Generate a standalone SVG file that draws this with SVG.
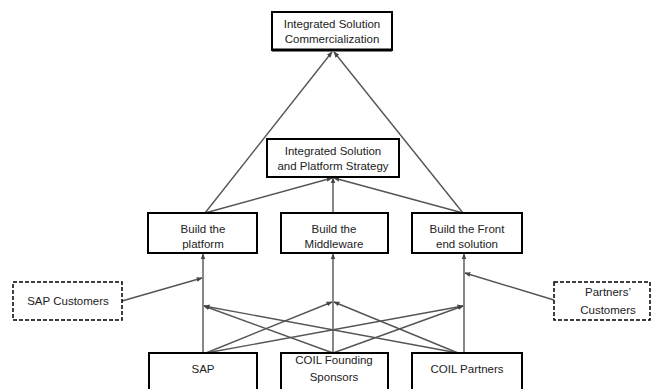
<svg xmlns="http://www.w3.org/2000/svg" width="653" height="389" viewBox="0 0 653 389">
<defs>
<style>
.box{fill:#fff;stroke:#000;stroke-width:2}
.dash{fill:#fff;stroke:#000;stroke-width:1.5;stroke-dasharray:4 2}
.t{font-family:"Liberation Sans",Arial,sans-serif;font-size:11.5px;fill:#222;text-anchor:middle}
.c{stroke:#555;stroke-width:1.4;fill:none;marker-end:url(#a)}
</style>
<marker id="a" viewBox="0 0 10 10" refX="9" refY="5" markerWidth="6" markerHeight="6" orient="auto" markerUnits="userSpaceOnUse">
<path d="M0,1 L10,5 L0,9 z" fill="#444"/>
</marker>
</defs>
<rect width="653" height="389" fill="#fff"/>
<g id="connectors">
<line class="c" x1="205" y1="213" x2="332" y2="52"/>
<line class="c" x1="463" y1="213" x2="334" y2="52"/>
<line class="c" x1="205" y1="213" x2="332" y2="178"/>
<line class="c" x1="333" y1="213" x2="333" y2="178"/>
<line class="c" x1="463" y1="213" x2="334" y2="178"/>
<line class="c" x1="203" y1="353" x2="203" y2="254"/>
<line class="c" x1="333" y1="353" x2="333" y2="254"/>
<line class="c" x1="464" y1="353" x2="464" y2="254"/>
<line class="c" x1="122" y1="301" x2="202" y2="278"/>
<line class="c" x1="554" y1="300" x2="465" y2="273"/>
<line class="c" x1="206" y1="353" x2="332" y2="302"/>
<line class="c" x1="206" y1="353" x2="463" y2="306"/>
<line class="c" x1="333" y1="353" x2="204" y2="306"/>
<line class="c" x1="333" y1="353" x2="463" y2="306"/>
<line class="c" x1="458" y1="353" x2="204" y2="306"/>
<line class="c" x1="458" y1="353" x2="334" y2="302"/>
</g>
<g id="n-commercialization">
<rect class="box" x="272" y="12" width="120" height="38"/>
<line x1="272" y1="50" x2="392" y2="50" stroke="#000" stroke-width="3"/>
<text class="t" x="332" y="28">Integrated Solution</text>
<text class="t" x="332" y="43">Commercialization</text>
</g>
<g id="n-strategy">
<rect class="box" x="267" y="139" width="132" height="38"/>
<text class="t" x="333" y="155">Integrated Solution</text>
<text class="t" x="333" y="170">and Platform Strategy</text>
</g>
<g id="n-platform">
<rect class="box" x="148" y="213" width="109" height="40"/>
<text class="t" x="203" y="233">Build the</text>
<text class="t" x="203" y="248">platform</text>
</g>
<g id="n-middleware">
<rect class="box" x="281" y="213" width="107" height="40"/>
<text class="t" x="334" y="233">Build the</text>
<text class="t" x="334" y="248">Middleware</text>
</g>
<g id="n-frontend">
<rect class="box" x="412" y="213" width="110" height="40"/>
<text class="t" x="467" y="233">Build the Front</text>
<text class="t" x="467" y="248">end solution</text>
</g>
<g id="n-sapcustomers">
<rect class="dash" x="13" y="282" width="109" height="38"/>
<text class="t" x="68" y="305">SAP Customers</text>
</g>
<g id="n-partnerscustomers">
<rect class="dash" x="554" y="282" width="96" height="38"/>
<text class="t" x="608" y="296">Partners’</text>
<text class="t" x="608" y="314">Customers</text>
</g>
<g id="n-sap">
<rect class="box" x="149" y="353" width="108" height="42"/>
<text class="t" x="203" y="373">SAP</text>
</g>
<g id="n-coilfounding">
<rect class="box" x="281" y="353" width="107" height="42"/>
<text class="t" x="334" y="364">COIL Founding</text>
<text class="t" x="334" y="381">Sponsors</text>
</g>
<g id="n-coilpartners">
<rect class="box" x="412" y="353" width="110" height="42"/>
<text class="t" x="467" y="373">COIL Partners</text>
</g>
</svg>
